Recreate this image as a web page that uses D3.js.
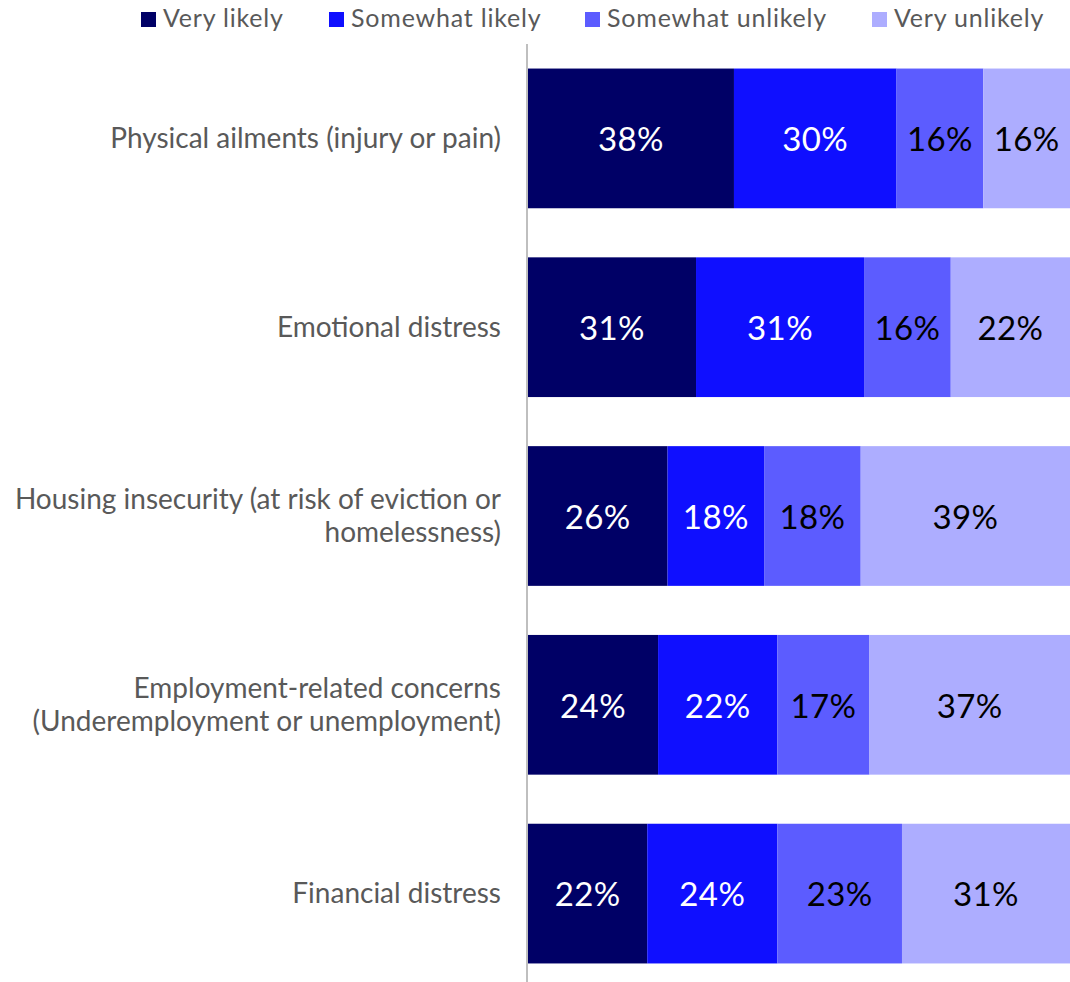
<!DOCTYPE html>
<html><head><meta charset="utf-8">
<script src="https://cdn.jsdelivr.net/npm/d3@7"></script>
<style>body{margin:0;background:#fff}svg{display:block;font-family:Lato,sans-serif}</style>
</head><body><svg id="c" width="1070" height="982"></svg>
<script>
const categories = [
  ["Physical ailments (injury or pain)"],
  ["Emotional distress"],
  ["Housing insecurity (at risk of eviction or","homelessness)"],
  ["Employment-related concerns","(Underemployment or unemployment)"],
  ["Financial distress"]
];
const seriesNames = ["Very likely","Somewhat likely","Somewhat unlikely","Very unlikely"];
const veryLikely = [38,31,26,24,22];
const somewhatLikely = [30,31,18,22,24];
const somewhatUnlikely = [16,16,18,17,23];
const veryUnlikely = [16,22,39,37,31];
const colors = ["#000066","#0f0fff","#5c5cff","#adadff"];
const labelColors = ["#fff","#fff","#000","#000"];

const rows = categories.map((c,i)=>({key:i, lines:c,
  "Very likely":veryLikely[i],"Somewhat likely":somewhatLikely[i],
  "Somewhat unlikely":somewhatUnlikely[i],"Very unlikely":veryUnlikely[i]}));
const stack = d3.stack().keys(seriesNames).offset(d3.stackOffsetExpand)(rows);

const svg = d3.select("#c");
const x = d3.scaleLinear().domain([0,1]).range([528,1070]);
const y = d3.scaleBand().domain(rows.map(r=>r.key)).range([44,988]).paddingInner(0.26).paddingOuter(0.13);

const g = svg.append("g");
stack.forEach((s,si)=>{
  const sg = g.append("g");
  sg.selectAll("rect").data(s).join("rect")
    .attr("x",d=>x(d[0])).attr("width",d=>x(d[1])-x(d[0]))
    .attr("y",d=>y(d.data.key)).attr("height",y.bandwidth())
    .attr("fill",colors[si]);
  sg.selectAll("text").data(s).join("text")
    .attr("x",d=>(x(d[0])+x(d[1]))/2).attr("y",d=>y(d.data.key)+y.bandwidth()/2)
    .attr("text-anchor","middle").attr("dy","0.39em")
    .attr("font-size",33).attr("letter-spacing","0.4px").attr("fill",labelColors[si])
    .text(d=>d.data[s.key]+"%");
});

// axis line
svg.append("line").attr("x1",527).attr("x2",527).attr("y1",44).attr("y2",982)
  .attr("stroke","#bfbfbf").attr("stroke-width",2);

// category labels
const cl = svg.append("g");
rows.forEach(r=>{
  const n = r.lines.length, lh = 33;
  const cy = y(r.key)+y.bandwidth()/2;
  const t = cl.append("text").attr("text-anchor","end").attr("font-size",28).attr("fill","#595959");
  r.lines.forEach((ln,j)=>{
    t.append("tspan").attr("x",501).attr("y",cy + (j-(n-1)/2)*lh).attr("dy","0.35em").text(ln);
  });
});

// legend
const legX = [141,329,585,872];
const lg = svg.append("g");
seriesNames.forEach((s,i)=>{
  lg.append("rect").attr("x",legX[i]).attr("y",12).attr("width",15).attr("height",15).attr("fill",colors[i]);
  lg.append("text").attr("x",legX[i]+22).attr("y",27.3)
    .attr("font-size",25).attr("letter-spacing","0.8px").attr("fill","#595959").text(s);
});
</script></body></html>
